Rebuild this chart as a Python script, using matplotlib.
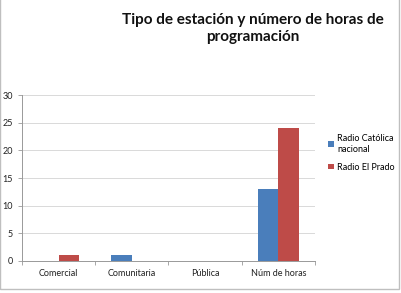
import numpy as np
import matplotlib.pyplot as plt
from matplotlib.patches import Rectangle

categories = ['Comercial', 'Comunitaria', 'Pública', 'Núm de horas']
catolica = [0, 1, 0, 13]
prado = [1, 0, 0, 24]
series_names = ['Radio Católica\nnacional', 'Radio El Prado']
yticks = [0, 5, 10, 15, 20, 25, 30]

plt.rcParams['font.family'] = ['Lato', 'DejaVu Sans']

fig = plt.figure(figsize=(4.02, 2.93), dpi=100)
ax = fig.add_axes([22 / 402, 1 - 261 / 293, 293 / 402, 166 / 293])

x = np.arange(len(categories))
w = 0.28
ax.bar(x - w / 2, catolica, w, color='#4a7ebb', label=series_names[0])
ax.bar(x + w / 2, prado, w, color='#be4b48', label=series_names[1])

ax.set_xlim(-0.5, len(categories) - 0.5)
ax.set_ylim(0, 30)
ax.set_yticks(yticks)
ax.set_xticks(x)
ax.set_xticklabels(categories)
ax.tick_params(axis='both', labelsize=6.5, colors='#222222', length=3, width=0.6)
ax.tick_params(axis='x', length=0, pad=6)
ax.set_xticks(np.arange(len(categories) + 1) - 0.5, minor=True)
ax.tick_params(axis='x', which='minor', length=3, width=0.6, color='#999999')
ax.tick_params(axis='y', color='#999999')
ax.grid(axis='y', color='#d9d9d9', linewidth=0.7)
ax.set_axisbelow(True)
for s in ['top', 'right']:
    ax.spines[s].set_visible(False)
for s in ['left', 'bottom']:
    ax.spines[s].set_color('#999999')
    ax.spines[s].set_linewidth(0.7)

fig.text(0.63, 0.955, 'Tipo de estación y número de horas de\nprogramación',
         ha='center', va='top', fontsize=11, fontweight='bold',
         linespacing=1.25, color='#111111')

ax.legend(loc='center left', bbox_to_anchor=(320 / 402, 1 - 153 / 293),
          bbox_transform=fig.transFigure, frameon=False, fontsize=6.5,
          handlelength=0.6, handleheight=0.6, handletextpad=0.4,
          labelspacing=1.0)

fig.add_artist(Rectangle((0, 4 / 293), 399 / 402, 1, transform=fig.transFigure,
                         fill=False, edgecolor='#bfbfbf', linewidth=1))

fig.savefig('out.png', dpi=100)
